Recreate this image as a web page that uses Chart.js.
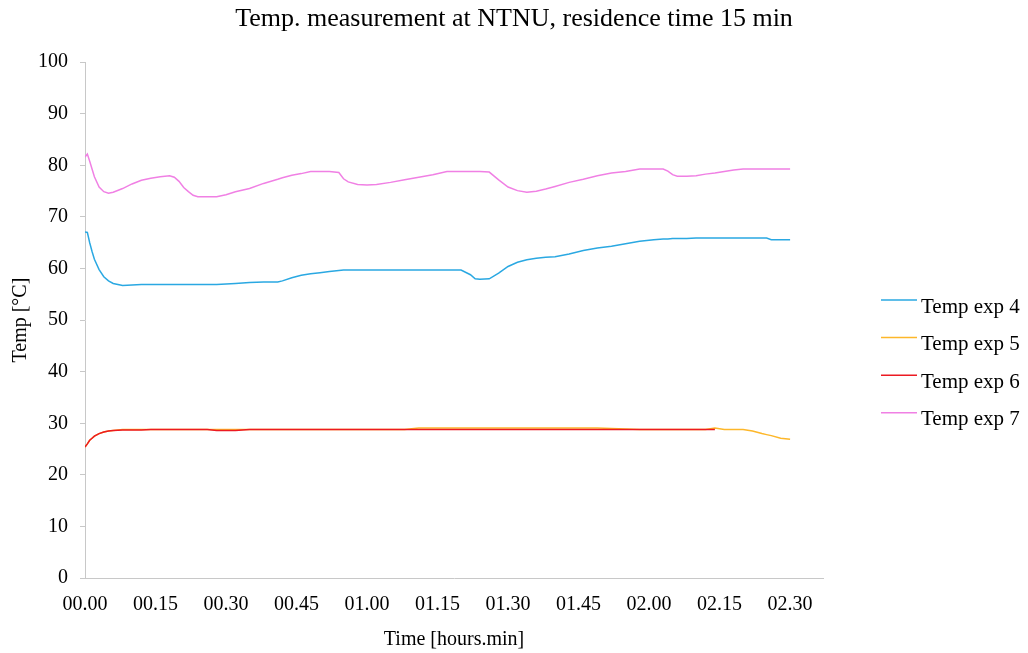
<!DOCTYPE html>
<html>
<head>
<meta charset="utf-8">
<script src="https://cdn.jsdelivr.net/npm/chart.js@4.4.1/dist/chart.umd.min.js"></script>
<style>
html,body{margin:0;padding:0;background:#fff;}
canvas{display:block;}
</style>
</head>
<body>
<canvas id="c" width="1028" height="653"></canvas>
<script>
// Time in minutes since start
const minutes = [0,0.5,1,1.5,2,3,4,5,6,8,10,12,14,16,18,19,20,21,22,23,24,26,28,30,32,35,38,41,42,44,46,48,50,52,54,55,56,58,60,62,65,68,71,74,77,80,82,83,84,86,88,90,92,94,96,98,100,103,106,109,112,115,118,121,123,124,125,126,128,130,132,134,136,138,140,142,144,145,146,148,150];

const tempExp4 = [67.1,67.0,65.0,63.3,61.8,59.8,58.4,57.6,57.1,56.7,56.8,56.9,56.9,56.9,56.9,56.9,56.9,56.9,56.9,56.9,56.9,56.9,56.9,57.0,57.1,57.3,57.4,57.4,57.6,58.2,58.7,59.0,59.2,59.4,59.6,59.7,59.7,59.7,59.7,59.7,59.7,59.7,59.7,59.7,59.7,59.7,58.8,58.0,57.9,58.0,59.1,60.4,61.2,61.7,62.0,62.2,62.3,62.8,63.5,64.0,64.3,64.8,65.3,65.6,65.7,65.7,65.8,65.8,65.8,65.9,65.9,65.9,65.9,65.9,65.9,65.9,65.9,65.9,65.6,65.6,65.6];

const tempExp5 = [25.4,26.0,26.7,27.1,27.5,28.0,28.3,28.5,28.6,28.8,28.8,28.8,28.8,28.8,28.8,28.8,28.8,28.8,28.8,28.8,28.8,28.8,28.8,28.8,28.8,28.8,28.8,28.8,28.8,28.8,28.8,28.8,28.8,28.8,28.8,28.8,28.8,28.8,28.8,28.8,28.8,28.8,29.1,29.1,29.1,29.1,29.1,29.1,29.1,29.1,29.1,29.1,29.1,29.1,29.1,29.1,29.1,29.1,29.1,29.1,29.0,28.9,28.8,28.8,28.8,28.8,28.8,28.8,28.8,28.8,28.8,29.1,28.8,28.8,28.8,28.5,28.0,27.8,27.6,27.1,26.9];

const tempExp6 = [25.4,26.0,26.7,27.1,27.5,28.0,28.3,28.5,28.6,28.7,28.7,28.7,28.8,28.8,28.8,28.8,28.8,28.8,28.8,28.8,28.8,28.8,28.6,28.6,28.6,28.8,28.8,28.8,28.8,28.8,28.8,28.8,28.8,28.8,28.8,28.8,28.8,28.8,28.8,28.8,28.8,28.8,28.8,28.8,28.8,28.8,28.8,28.8,28.8,28.8,28.8,28.8,28.8,28.8,28.8,28.8,28.8,28.8,28.8,28.8,28.8,28.8,28.8,28.8,28.8,28.8,28.8,28.8,28.8,28.8,28.8,28.8,null,null,null,null,null,null,null,null,null];

const tempExp7 = [81.6,82.2,80.8,79.3,77.8,75.8,74.9,74.6,74.8,75.5,76.4,77.1,77.5,77.8,78.0,77.7,76.9,75.7,74.9,74.2,73.9,73.9,73.9,74.3,74.9,75.5,76.5,77.3,77.6,78.1,78.4,78.8,78.8,78.8,78.6,77.4,76.8,76.3,76.2,76.3,76.7,77.2,77.7,78.2,78.8,78.8,78.8,78.8,78.8,78.7,77.2,75.8,75.1,74.8,75.0,75.4,75.9,76.7,77.3,78.0,78.5,78.8,79.3,79.3,79.3,78.9,78.2,77.9,77.9,78.0,78.3,78.5,78.8,79.1,79.3,79.3,79.3,79.3,79.3,79.3,79.3];

const seriesLabels = ['Temp exp 4','Temp exp 5','Temp exp 6','Temp exp 7'];
const seriesColors = ['#2aa8e2','#fdb72a','#ec1a22','#f080e4'];
const yTicks = [0,10,20,30,40,50,60,70,80,90,100];

const FONT = '"Liberation Serif", "Times New Roman", serif';

function toPoints(vals){
  return minutes.map((m,i)=>({x:m, y:vals[i]}));
}
function fmtTime(v){
  const h = Math.floor(v/60), m = Math.round(v - h*60);
  return String(h).padStart(2,'0') + '.' + String(m).padStart(2,'0');
}

const sideLegend = {
  id: 'sideLegend',
  afterDraw(chart){
    const ctx = chart.ctx;
    ctx.save();
    ctx.font = '21px ' + FONT;
    ctx.fillStyle = '#000';
    ctx.textAlign = 'left';
    ctx.textBaseline = 'alphabetic';
    chart.data.datasets.forEach((ds, i) => {
      const y = 300 + 37.6 * i;
      ctx.strokeStyle = ds.borderColor;
      ctx.lineWidth = 1.5;
      ctx.beginPath();
      ctx.moveTo(881, y);
      ctx.lineTo(917, y);
      ctx.stroke();
      ctx.fillText(ds.label, 921, y + 12.5);
    });
    ctx.restore();
  }
};

const allSeries = [tempExp4, tempExp5, tempExp6, tempExp7];
const drawOrder = [3, 2, 1, 0];

Chart.defaults.color = '#000';
Chart.defaults.font.family = FONT;

new Chart(document.getElementById('c'), {
  type: 'line',
  data: {
    datasets: allSeries.map((vals, i) => ({
      label: seriesLabels[i],
      data: toPoints(vals),
      borderColor: seriesColors[i],
      backgroundColor: seriesColors[i],
      borderWidth: 1.5,
      pointRadius: 0,
      tension: 0,
      fill: false,
      spanGaps: false,
      order: drawOrder[i],
      yAxisID: 'y'
    }))
  },
  options: {
    responsive: false,
    animation: false,
    layout: { padding: { left: 0, right: 0, top: 0, bottom: 0 } },
    plugins: {
      legend: { display: false },
      tooltip: { enabled: false },
      title: {
        display: true,
        text: 'Temp. measurement at NTNU, residence time 15 min',
        font: { size: 26, family: FONT, weight: 'normal' },
        color: '#000',
        padding: { top: 4, bottom: 27 }
      }
    },
    scales: {
      x: {
        type: 'linear',
        min: 0,
        max: 157,
        afterFit: (s) => { s.height = 75; },
        grid: { display: false, drawTicks: false },
        border: { display: true, color: '#c8c8c8', width: 1 },
        ticks: {
          stepSize: 15,
          includeBounds: false,
          autoSkip: false,
          maxRotation: 0,
          padding: 15,
          font: { size: 20, family: FONT },
          color: '#000',
          callback: (v) => fmtTime(v)
        },
        title: {
          display: true,
          text: 'Time [hours.min]',
          font: { size: 20, family: FONT },
          color: '#000',
          padding: { top: 11, bottom: 1 }
        }
      },
      y: {
        min: 0,
        max: 100,
        position: 'left',
        afterFit: (s) => { s.width = 85; },
        afterBuildTicks: (scale) => { scale.ticks = yTicks.map(v => ({value: v})); },
        grid: { display: true, drawOnChartArea: false, drawTicks: true, tickLength: 5, color: '#c8c8c8' },
        border: { display: true, color: '#c8c8c8', width: 1 },
        ticks: {
          padding: 12,
          font: { size: 20, family: FONT },
          color: '#000'
        },
        title: {
          display: true,
          text: 'Temp [°C]',
          font: { size: 20, family: FONT },
          color: '#000',
          padding: { top: 8.5, bottom: 2 }
        }
      },
      legendSpace: {
        type: 'linear',
        axis: 'y',
        position: 'right',
        min: 0,
        max: 100,
        afterFit: (s) => { s.width = 205; },
        grid: { display: false, drawTicks: false },
        border: { display: false },
        ticks: { display: false },
        title: { display: false }
      }
    }
  },
  plugins: [sideLegend]
});
</script>
</body>
</html>
